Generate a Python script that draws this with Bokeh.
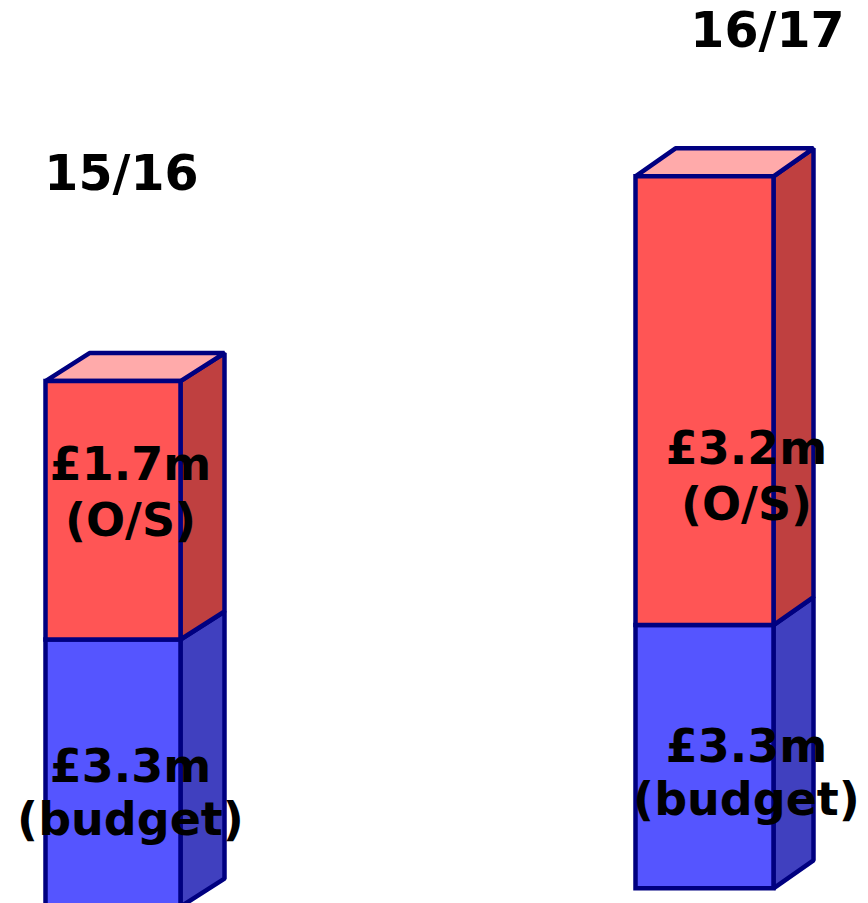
from bokeh.plotting import figure
from bokeh.models import Range1d
from bokeh.embed import file_html
from bokeh.resources import INLINE
from bokeh.core.properties import value

# ---- data ----
years = ["15/16", "16/17"]
budget_labels = ["£3.3m", "£3.3m"]
os_labels = ["£1.7m", "£3.2m"]
budget_note = ["(budget)", "(budget)"]
os_note = ["(O/S)", "(O/S)"]
# drawn segment heights in chart units, as measured on the picture
base_drawn = [-0.04, 0.19]
budget_drawn = [3.34, 3.29]
os_drawn = [3.23, 5.61]

# ---- layout / style ----
W, H = 868, 903
UNIT = 80.0  # px per chart unit
bar_left = [45, 635]
bar_width = [135, 138]
depth_x = [44, 40]
depth_y = 0.35
label_x = [130, 746]
year_pos = [(121, 9.125), (767, 10.91)]
os_label_y = [(5.5, 4.8), (5.7, 4.99)]
bud_label_y = [(1.72, 1.06), (1.97, 1.31)]

OUT = "#000080"
RED_F, RED_S, RED_T = "#FF5555", "#BF4040", "#FFAAAA"
BLU_F, BLU_S = "#5555FF", "#4040BF"

p = figure(width=W, height=H, output_backend="svg", toolbar_location=None,
           x_range=Range1d(0, W), y_range=Range1d(0, H / UNIT),
           min_border=0, outline_line_color=None)
p.axis.visible = False
p.grid.visible = False
p.background_fill_color = "white"
p.border_fill_color = "white"

front_xs, front_ys, front_c = [], [], []
side_xs, side_ys, side_c = [], [], []
top_xs, top_ys, top_c = [], [], []

for i in range(len(years)):
    x0 = bar_left[i]
    x1 = x0 + bar_width[i]
    dx = depth_x[i]
    segs = [(base_drawn[i], base_drawn[i] + budget_drawn[i], BLU_F, BLU_S),
            (base_drawn[i] + budget_drawn[i],
             base_drawn[i] + budget_drawn[i] + os_drawn[i], RED_F, RED_S)]
    for (y0, y1, cf, cs) in segs:
        front_xs.append([x0, x1, x1, x0])
        front_ys.append([y0, y0, y1, y1])
        front_c.append(cf)
        side_xs.append([x1, x1 + dx, x1 + dx, x1])
        side_ys.append([y0, y0 + depth_y, y1 + depth_y, y1])
        side_c.append(cs)
    ytop = base_drawn[i] + budget_drawn[i] + os_drawn[i]
    top_xs.append([x0, x1, x1 + dx, x0 + dx])
    top_ys.append([ytop, ytop, ytop + depth_y, ytop + depth_y])
    top_c.append(RED_T)

p.patches(side_xs, side_ys, fill_color=side_c, line_color=OUT,
          line_width=4.5, line_join="bevel")
p.patches(top_xs, top_ys, fill_color=top_c, line_color=OUT,
          line_width=4.5, line_join="bevel")
p.patches(front_xs, front_ys, fill_color=front_c, line_color=OUT,
          line_width=4.5, line_join="miter")

font = value("DejaVu Sans")
txt = dict(text_font=font, text_font_style="bold", text_align="center",
           text_baseline="middle", text_color="black")

p.text(x=[q[0] for q in year_pos], y=[q[1] for q in year_pos], text=years,
       text_font_size="49px", **txt)

p.text(x=label_x, y=[q[0] for q in os_label_y], text=os_labels,
       text_font_size="46px", **txt)
p.text(x=label_x, y=[q[1] for q in os_label_y], text=os_note,
       text_font_size="46px", **txt)
p.text(x=label_x, y=[q[0] for q in bud_label_y], text=budget_labels,
       text_font_size="46px", **txt)
p.text(x=label_x, y=[q[1] for q in bud_label_y], text=budget_note,
       text_font_size="46px", **txt)

open("out.html", "w").write(file_html(p, INLINE))
